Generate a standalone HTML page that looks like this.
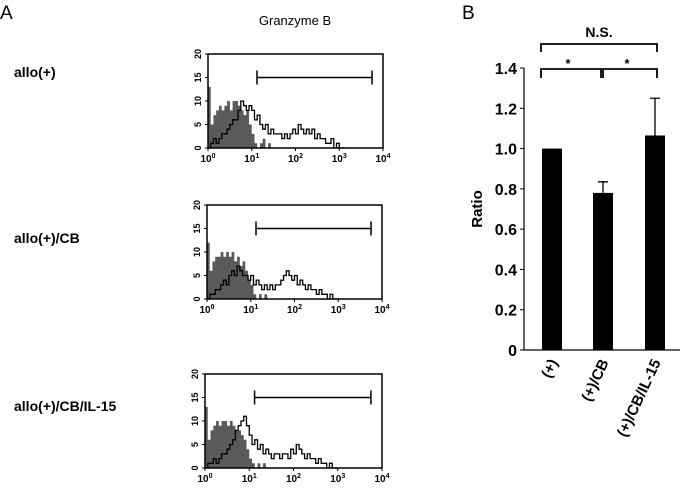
<!DOCTYPE html>
<html><head><meta charset="utf-8"><style>
body{margin:0;background:#fff;width:682px;height:489px;overflow:hidden}
svg{font-family:"Liberation Sans",Arial,sans-serif}
</style></head><body>
<svg width="682" height="489" viewBox="0 0 682 489" id="root">
<text x="0" y="19" font-size="19">A</text>
<text x="462" y="19" font-size="19">B</text>
<text x="295" y="25" font-size="13" text-anchor="middle">Granzyme B</text>
<text x="14" y="77" font-size="14" font-weight="bold">allo(+)</text>
<text x="14" y="243" font-size="14" font-weight="bold">allo(+)/CB</text>
<text x="14" y="411" font-size="14" font-weight="bold">allo(+)/CB/IL-15</text>
<g id="hists"></g>
<g id="bars"></g>
</svg>
<script>
const histGray1=[13,5,7,8,9,8,9,10,8,10,10,9,8,7,8,5,3,1,0,1,2,0,1,0,0,0,0,0,0,0,0,0];
const histBlack1=[0,1,2,1,2,3,3,4,5,6,6,8,10,9,8,9,8,6,7,5,4,5,3,4,3,3,3,2,3,2,3,4,3,5,4,3,4,3,4,2,3,2,2,1,1,2,0,1,0,0];
const histGray2=[12,6,8,9,9,10,9,10,9,10,8,9,7,8,6,4,3,1,0,1,0,1,0,0,0,0,0,0,0,0];
const histBlack2=[0,1,1,2,2,3,4,3,5,6,5,7,6,5,5,4,5,3,4,3,2,3,2,3,2,3,3,4,5,6,5,4,5,3,4,3,2,3,2,2,1,2,1,1,0,1,0,0];
const histGray3=[13,6,8,9,10,9,10,10,9,10,9,8,8,7,6,4,2,1,0,1,0,1,0,0,0,0,0,0];
const histBlack3=[0,1,1,2,1,2,3,3,4,5,6,8,9,10,11,9,7,5,6,4,5,3,4,3,2,3,3,2,3,3,2,4,3,5,4,3,2,3,2,2,1,2,1,1,0,1,0,0];
const histTicksY=[0,5,10,15,20];
const histTicksX=[0,1,2,3,4];
const gateRange=[1.12,3.75];

const barCats=["(+)","(+)/CB","(+)/CB/IL-15"];
const barVals=[1.0,0.78,1.065];
const barErr=[0,0.055,0.185];
const yTicks=[0,0.2,0.4,0.6,0.8,1.0,1.2,1.4];
const yTickLabels=["0","0.2","0.4","0.6","0.8","1.0","1.2","1.4"];

const NS="http://www.w3.org/2000/svg";
function mk(tag,attrs,parent,txt){const e=document.createElementNS(NS,tag);for(const k in attrs)e.setAttribute(k,attrs[k]);if(txt!==undefined)e.textContent=txt;parent.appendChild(e);return e;}

const panels=[
 {gray:histGray1,black:histBlack1,x0:208,x1:383,y0:54,y1:148,name:"hist-allo"},
 {gray:histGray2,black:histBlack2,x0:207,x1:382,y0:205,y1:299,name:"hist-allo-cb"},
 {gray:histGray3,black:histBlack3,x0:205,x1:382,y0:374,y1:468,name:"hist-allo-cb-il15"}];
const hg=document.getElementById('hists');
panels.forEach(p=>{
  const g=mk('g',{},hg);
  
  
  const sx=v=>p.x0+(p.x1-p.x0)*v/4;
  const sy=v=>p.y1-(p.y1-p.y0)*v/20;
  const bw=1/16;
  function path(arr){let d=`M${sx(0)},${sy(0)}`;arr.forEach((v,i)=>{d+=`L${sx(i*bw)},${sy(v)}L${sx((i+1)*bw)},${sy(v)}`;});d+=`L${sx(arr.length*bw)},${sy(0)}`;return d;}
  const gp=mk('path',{d:path(p.gray)+'Z',fill:'#5a5a5a'},g);
  
  
  const bp=mk('path',{d:path(p.black),fill:'none',stroke:'#000','stroke-width':1.3},g);
  
  
  mk('rect',{x:p.x0,y:p.y0,width:p.x1-p.x0,height:p.y1-p.y0,fill:'none',stroke:'#000','stroke-width':1.5},g);
  histTicksY.forEach(t=>{
    mk('line',{x1:p.x0-3,x2:p.x0,y1:sy(t),y2:sy(t),stroke:'#000'},g);
    const tx=mk('text',{x:0,y:0,'font-size':9,'font-weight':'bold','text-anchor':'middle',transform:`translate(${p.x0-7},${sy(t)}) rotate(-90)`},g,String(t));
    
    
  });
  histTicksX.forEach(t=>{
    mk('line',{x1:sx(t),x2:sx(t),y1:p.y1,y2:p.y1+3,stroke:'#000'},g);
    const tx=mk('text',{x:sx(t),y:p.y1+14,'font-size':10,'font-weight':'bold','text-anchor':'middle'},g);
    
    
    tx.innerHTML=`10<tspan dy="-4" font-size="7">${t}</tspan>`;
  });
  const gy=p.y0+(p.y1-p.y0)*0.25;
  const gate=mk('path',{d:`M${sx(gateRange[0])},${gy-7}V${gy+7}M${sx(gateRange[0])},${gy}H${sx(gateRange[1])}M${sx(gateRange[1])},${gy-7}V${gy+7}`,stroke:'#000','stroke-width':1.5,fill:'none'},g);
  
  
});

const bg=document.getElementById('bars');
const ax0=524,axR=680,yb=350,yt=68;
const Y=v=>yb-(yb-yt)*v/1.4;
const barX=[552,603,655], bwid=20;
mk('line',{x1:ax0,x2:ax0,y1:Y(1.4),y2:yb,stroke:'#000','stroke-width':1.2},bg);
mk('line',{x1:ax0,x2:axR,y1:yb,y2:yb,stroke:'#000','stroke-width':1.2},bg);
yTicks.forEach((t,i)=>{
  mk('line',{x1:ax0-4,x2:ax0,y1:Y(t),y2:Y(t),stroke:'#000'},bg);
  const tx=mk('text',{x:ax0-7,y:Y(t)+6,'font-size':16,'font-weight':'bold','text-anchor':'end'},bg,yTickLabels[i]);
  
  
});
const yt2=mk('text',{x:0,y:0,'font-size':15,'font-weight':'bold','text-anchor':'middle',transform:`translate(482,209) rotate(-90)`},bg,'Ratio');


barCats.forEach((c,i)=>{
  const r=mk('rect',{x:barX[i]-bwid/2,y:Y(barVals[i]),width:bwid,height:yb-Y(barVals[i]),fill:'#000'},bg);
  
  
  if(barErr[i]>0){
    const e=mk('path',{d:`M${barX[i]},${Y(barVals[i])}V${Y(barVals[i]+barErr[i])}M${barX[i]-5},${Y(barVals[i]+barErr[i])}H${barX[i]+5}`,stroke:'#000','stroke-width':1.3,fill:'none'},bg);
    
    
  }
  const tx=mk('text',{x:0,y:0,'font-size':15,'font-weight':'bold','text-anchor':'end',transform:`translate(${barX[i]+6},${yb+12}) rotate(-65)`},bg,c);
  
  
});
const br=mk('path',{d:`M541,52V44H657V52M541,78V69H601V78M603,78V69H657V78`,stroke:'#000','stroke-width':1.8,fill:'none'},bg);


const ns=mk('text',{x:599,y:37,'font-size':14,'font-weight':'bold','text-anchor':'middle'},bg,'N.S.');


[568,627].forEach(x=>{const s=mk('text',{x:x,y:68,'font-size':13,'text-anchor':'middle','font-weight':'bold'},bg,'*');

});
</script>
</body></html>
